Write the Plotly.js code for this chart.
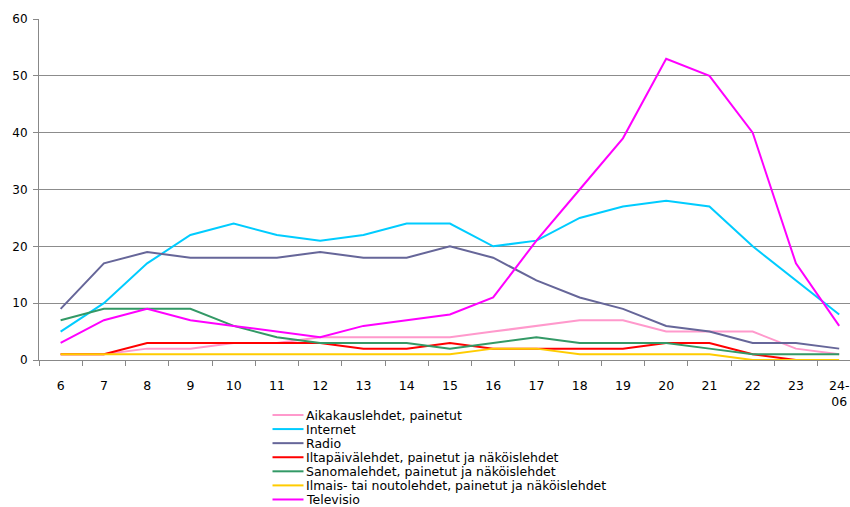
<!DOCTYPE html>
<html>
<head>
<meta charset="utf-8">
<script src="https://cdn.plot.ly/plotly-3.0.1.min.js"></script>
<style>
  html, body { margin: 0; padding: 0; background: #fff; }
  #chart { width: 850px; height: 507px; }
</style>
</head>
<body>
<div id="chart"></div>
<script>
// Hour of day (last band covers 24-06)
const hours = ['6','7','8','9','10','11','12','13','14','15','16','17','18','19','20','21','22','23','24-<br>06'];

// Share per hour, %
const aikakauslehdet = [1,1,2,2,3,3,4,4,4,4,5,6,7,7,5,5,5,2,1];
const internet       = [5,10,17,22,24,22,21,22,24,24,20,21,25,27,28,27,20,14,8];
const radio          = [9,17,19,18,18,18,19,18,18,20,18,14,11,9,6,5,3,3,2];
const iltapaivalehdet= [1,1,3,3,3,3,3,2,2,3,2,2,2,2,3,3,1,0,null];
const sanomalehdet   = [7,9,9,9,6,4,3,3,3,2,3,4,3,3,3,2,1,1,1];
const ilmaislehdet   = [1,1,1,1,1,1,1,1,1,1,2,2,1,1,1,1,0,0,0];
const televisio      = [3,7,9,7,6,5,4,6,7,8,11,21,30,39,53,50,40,17,6];

const seriesNames = [
  'Aikakauslehdet, painetut',
  'Internet',
  'Radio',
  'Iltapäivälehdet, painetut ja näköislehdet',
  'Sanomalehdet, painetut ja näköislehdet',
  'Ilmais- tai noutolehdet, painetut ja näköislehdet',
  'Televisio'
];
const seriesValues = [aikakauslehdet, internet, radio, iltapaivalehdet, sanomalehdet, ilmaislehdet, televisio];
const seriesColors = ['#ff99cc', '#00ccff', '#666699', '#ff0000', '#339966', '#ffcc00', '#ff00ff'];

const FONT = 'DejaVu Sans, Verdana, sans-serif';

const traces = seriesNames.map((name, i) => ({
  type: 'scatter',
  mode: 'lines',
  name: name,
  x: hours,
  y: seriesValues[i],
  line: { color: seriesColors[i], width: 2 },
  connectgaps: false,
  showlegend: false,
  hoverinfo: 'skip'
}));

// Plot area geometry (px) used to place the key below the axes
const M = { l: 39, r: 0, t: 19, b: 147 };
const W = 850, H = 507;
const plotW = W - M.l - M.r, plotH = H - M.t - M.b;
const px = x => (x - M.l) / plotW;
const py = y => (H - M.b - y) / plotH;

// Key: short line sample + label per series
const keyTop = 415, keyStep = 14.08;
const shapes = [];
const annotations = [];
seriesNames.forEach((name, i) => {
  const yy = keyTop + keyStep * i;
  shapes.push({
    type: 'line', xref: 'paper', yref: 'paper',
    x0: px(272.5), x1: px(303.5), y0: py(yy), y1: py(yy),
    line: { color: seriesColors[i], width: 2 }
  });
  annotations.push({
    xref: 'paper', yref: 'paper',
    x: px(304), y: py(yy),
    xanchor: 'left', yanchor: 'middle',
    text: name, showarrow: false,
    font: { family: FONT, size: 12.5, color: '#000' }
  });
});

const layout = {
  width: W, height: H,
  margin: M,
  paper_bgcolor: '#fff',
  plot_bgcolor: '#fff',
  showlegend: false,
  font: { family: FONT, size: 12, color: '#000' },
  xaxis: {
    type: 'category',
    range: [-0.5, 18.25],
    tickson: 'boundaries',
    ticks: 'outside', ticklen: 5, tickcolor: '#888', tickwidth: 1,
    showgrid: false, zeroline: false,
    showline: true, linecolor: '#888', linewidth: 1,
    tickfont: { family: FONT, size: 12.5, color: '#000' },
    ticklabelstandoff: 14,
    fixedrange: true
  },
  yaxis: {
    range: [0, 60],
    tickvals: [0, 10, 20, 30, 40, 50, 60],
    ticks: 'outside', ticklen: 5, tickcolor: '#888', tickwidth: 1,
    showgrid: true, gridcolor: '#8c8c8c', gridwidth: 1,
    zeroline: false,
    showline: true, linecolor: '#888', linewidth: 1,
    tickfont: { family: FONT, size: 12, color: '#000' },
    ticklabelstandoff: 3,
    fixedrange: true
  },
  shapes: shapes,
  annotations: annotations
};

Plotly.newPlot('chart', traces, layout, { staticPlot: true, displayModeBar: false });
</script>
</body>
</html>
